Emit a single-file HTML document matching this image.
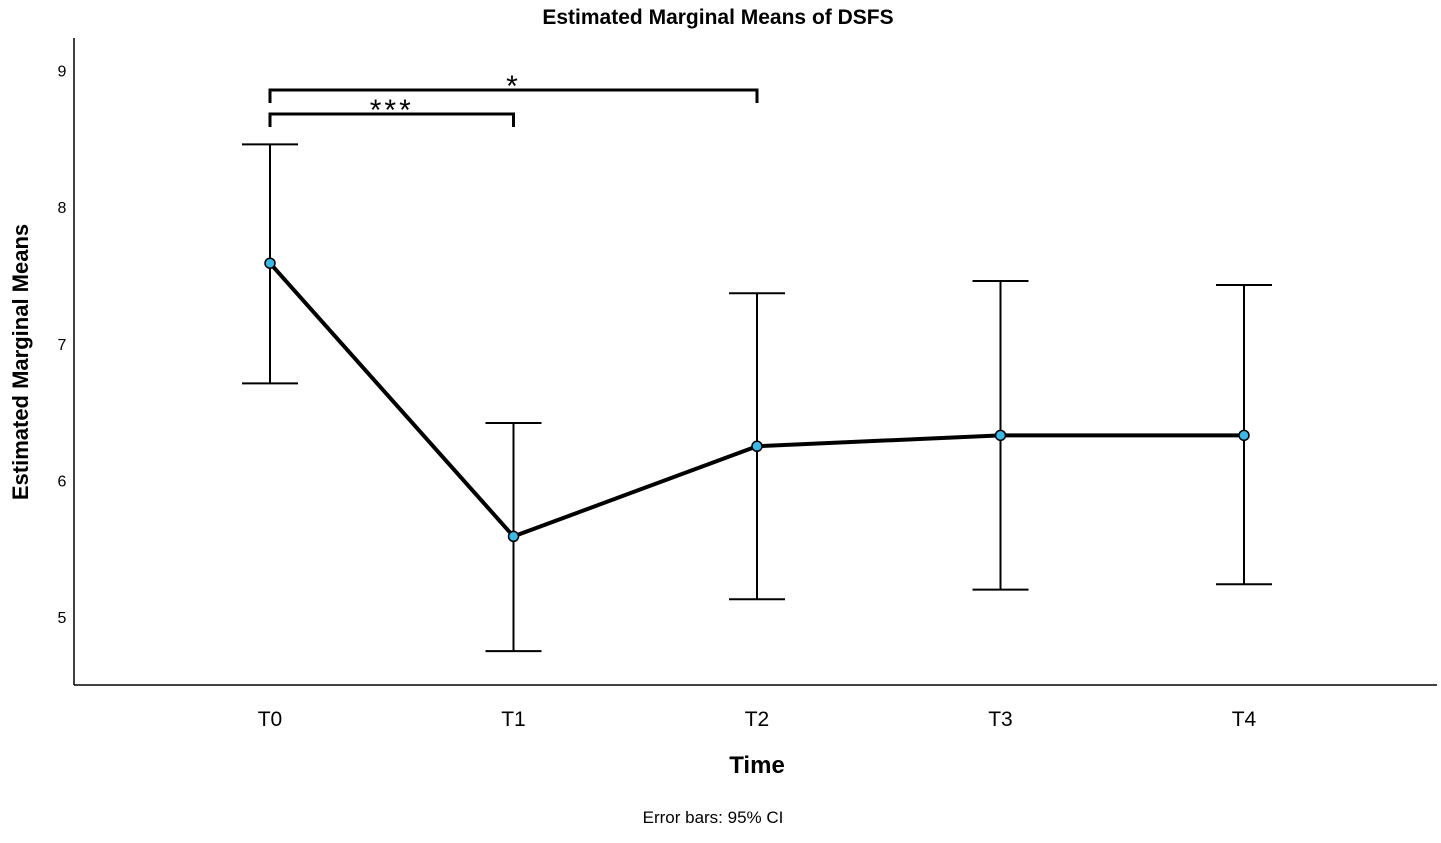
<!DOCTYPE html>
<html><head><meta charset="utf-8"><style>
body{margin:0;background:#fff;width:1441px;height:838px;overflow:hidden}
text{font-family:"Liberation Sans",sans-serif}
</style></head><body>
<svg id="chart" width="1441" height="838" viewBox="0 0 1441 838">
<text x="718" y="24" text-anchor="middle" font-size="21" font-weight="bold">Estimated Marginal Means of DSFS</text>
<line x1="74" y1="38" x2="74" y2="685" stroke="#000" stroke-width="1.5"/>
<line x1="74" y1="685" x2="1437" y2="685" stroke="#000" stroke-width="1.5"/>
<text transform="translate(28,362) rotate(-90)" text-anchor="middle" font-size="22" font-weight="bold">Estimated Marginal Means</text>
<text x="757" y="773" text-anchor="middle" font-size="24" font-weight="bold">Time</text>
<text x="713" y="823" text-anchor="middle" font-size="17">Error bars: 95% CI</text>
<g id="ticks"></g><g id="bars"></g><g id="line"></g><g id="sig"></g>
</svg>
<script>
const categories=["T0","T1","T2","T3","T4"];
const means=[7.59,5.59,6.25,6.33,6.33];
const upper=[8.46,6.42,7.37,7.46,7.43];
const lower=[6.71,4.75,5.13,5.20,5.24];
const yTicks=[5,6,7,8,9];
const sigLabels=["***","*"];
const sigTo=[1,2];
const NS="http://www.w3.org/2000/svg";
const x=i=>270+i*243.5;
const y=v=>617-(v-5)*136.6;
function mk(t,a,p){const e=document.createElementNS(NS,t);for(const k in a)e.setAttribute(k,a[k]);p.appendChild(e);return e;}
const tg=document.getElementById('ticks');
yTicks.forEach(v=>{const t=mk('text',{x:62,y:y(v)+6,'text-anchor':'middle','font-size':16},tg);


t.textContent=v;});
categories.forEach((c,i)=>{const t=mk('text',{x:x(i),y:726,'text-anchor':'middle','font-size':21},tg);


t.textContent=c;});
const bg=document.getElementById('bars');
categories.forEach((c,i)=>{const g=mk('g',{stroke:'#000','stroke-width':2},bg);


mk('line',{x1:x(i),x2:x(i),y1:y(upper[i]),y2:y(lower[i])},g);
mk('line',{x1:x(i)-28,x2:x(i)+28,y1:y(upper[i]),y2:y(upper[i])},g);
mk('line',{x1:x(i)-28,x2:x(i)+28,y1:y(lower[i]),y2:y(lower[i])},g);});
const lg=document.getElementById('line');
const pl=mk('polyline',{points:means.map((m,i)=>x(i)+','+y(m)).join(' '),fill:'none',stroke:'#000','stroke-width':4},lg);


means.forEach((m,i)=>{const c=mk('circle',{cx:x(i),cy:y(m),r:5,fill:'#3bb8e6',stroke:'#000','stroke-width':1.5},lg);

});
const sg=document.getElementById('sig');
sigLabels.forEach((s,k)=>{const by=114-k*24;const g=mk('g',{},sg);


mk('path',{d:`M${x(0)},${by+13} V${by} H${x(sigTo[k])} V${by+13}`,fill:'none',stroke:'#000','stroke-width':3},g);
const t=mk('text',{x:(x(0)+x(sigTo[k]))/2,y:by+6,'text-anchor':'middle','font-size':30,'letter-spacing':'3'},g);t.textContent=s;});
</script>
</body></html>
